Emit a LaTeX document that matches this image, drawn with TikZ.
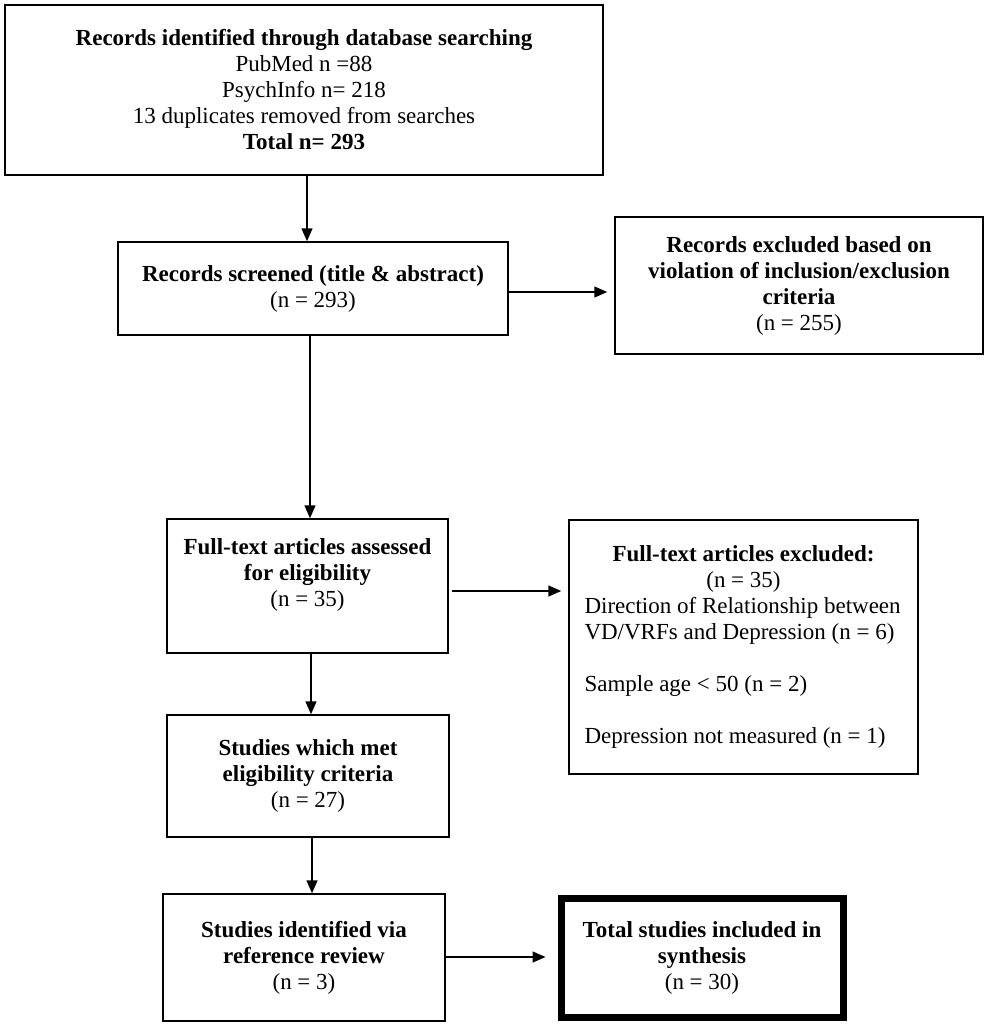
\documentclass[tikz,border=0pt]{standalone}
\usepackage{fontspec}
\setmainfont{Liberation Serif}
\usetikzlibrary{arrows.meta}
\begin{document}
\begin{tikzpicture}[x=1pt,y=-1pt,
  box/.style={draw, line width=1.5pt, inner sep=0pt, align=center,
    font=\fontsize{23}{26}\selectfont},
  arr/.style={line width=1.5pt, -{Triangle[length=13pt,width=11pt]}}]
\useasboundingbox (0,0) rectangle (988,1029);
\node[box, minimum width=598pt, minimum height=170pt] (b1) at (304,90)
  {\textbf{Records identified through database searching}\\PubMed n =88\\PsychInfo n= 218\\13 duplicates removed from searches\\\textbf{Total n= 293}};
\node[box, minimum width=390pt, minimum height=93pt] (b2) at (313,288.5)
  {\textbf{Records screened (title \& abstract)}\\(n = 293)};
\node[box, minimum width=368pt, minimum height=137pt] (b3) at (799,285.5)
  {\textbf{Records excluded based on}\\\textbf{violation of inclusion/exclusion}\\\textbf{criteria}\\(n = 255)};
\node[box, minimum width=281pt, minimum height=134pt] (b4) at (307.5,586)
  {\textbf{Full-text articles assessed}\\\textbf{for eligibility}\\(n = 35)\\\mbox{}};
\node[box, minimum width=349pt, minimum height=254pt, align=left] (b5) at (743.5,647)
  {\makebox[318pt][c]{\textbf{Full-text articles excluded:}}\\\makebox[318pt][c]{(n = 35)}\\Direction of Relationship between\\VD/VRFs and Depression (n = 6)\\[26pt]Sample age < 50 (n = 2)\\[26pt]Depression not measured (n = 1)};
\node[box, minimum width=282pt, minimum height=122pt] (b6) at (308,776)
  {\textbf{Studies which met}\\\textbf{eligibility criteria}\\(n = 27)};
\node[box, minimum width=282pt, minimum height=127pt] (b7) at (304,957.5)
  {\textbf{Studies identified via}\\\textbf{reference review}\\(n = 3)};
\node[box, line width=7pt, minimum width=282pt, minimum height=119pt] (b8) at (702,957.5)
  {\textbf{Total studies included in}\\\textbf{synthesis}\\(n = 30)};
\coordinate (v1) at (307,0);
\coordinate (v2) at (310,0);
\coordinate (v3) at (311,0);
\coordinate (v4) at (312,0);
\coordinate (h1) at (0,292);
\coordinate (h2) at (0,591);
\coordinate (h3) at (0,957);
\draw[arr] (b1.south -| v1) -- (b2.north -| v1);
\draw[arr] (b2.south -| v2) -- (b4.north -| v2);
\draw[arr] (b4.south -| v3) -- (b6.north -| v3);
\draw[arr] (b6.south -| v4) -- (b7.north -| v4);
\draw[arr, shorten >=7pt] (b2.east |- h1) -- (b3.west |- h1);
\draw[arr, shorten <=3pt, shorten >=7pt] (b4.east |- h2) -- (b5.west |- h2);
\draw[arr, shorten >=12pt] (b7.east |- h3) -- (b8.west |- h3);
\end{tikzpicture}
\end{document}
